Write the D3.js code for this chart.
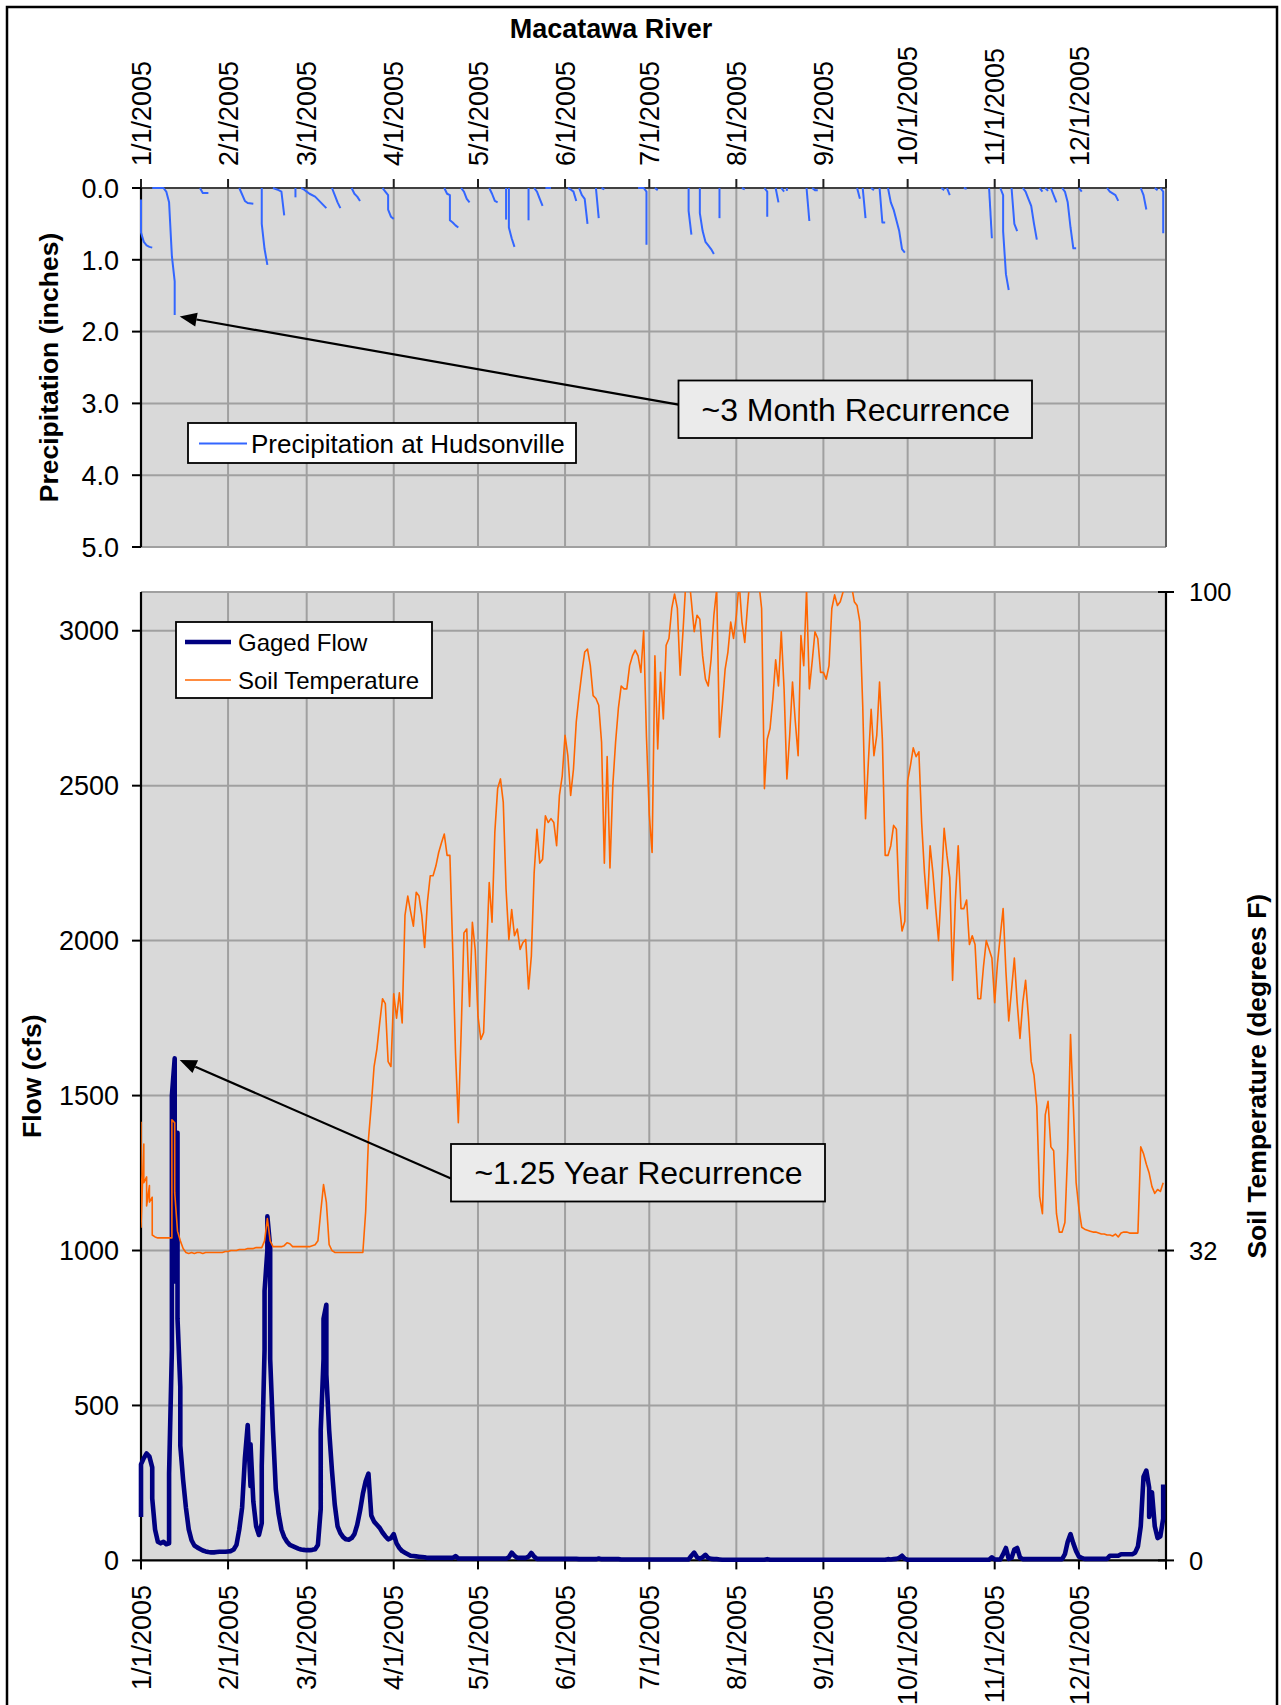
<!DOCTYPE html>
<html>
<head>
<meta charset="utf-8">
<script src="https://cdn.jsdelivr.net/npm/d3@7/dist/d3.min.js"></script>
<style>
html,body{margin:0;padding:0;background:#fff;}
svg{display:block;}
text{font-family:"Liberation Sans",Arial,Helvetica,sans-serif;fill:#000;}
</style>
</head>
<body>
<svg id="chart" width="1281" height="1705"></svg>
<script>
// ================= DATA =================
const chartTitle = "Macatawa River";
const monthLabels = ["1/1/2005","2/1/2005","3/1/2005","4/1/2005","5/1/2005","6/1/2005",
                     "7/1/2005","8/1/2005","9/1/2005","10/1/2005","11/1/2005","12/1/2005"];
const axisEndLabel = "1/1/2006";
const precipTickValues = [0, 1, 2, 3, 4, 5];
const flowTickValues = [0, 500, 1000, 1500, 2000, 2500, 3000];
const tempTickValues = [0, 32, 100];
const flowAxisMax = 3125;   // 32 °F lines up with 1000 cfs
const tempAxisMax = 100;

// Precipitation at Hudsonville: cumulative storm totals, [day of year (0 = Jan 1), inches]
const precipEvents = [
  [[0,0.16],[0,0.62],[1,0.75],[2,0.8],[3,0.82],[4,0.83]],
  [[4,0],[8,0],[9,0.05],[10,0.2],[11,0.95],[12,1.3],[12,1.77]],
  [[21,0],[22,0.07],[24,0.07]],
  [[35,0],[37,0.18],[38,0.21],[40,0.22]],
  [[43,0],[43,0.5],[44,0.85],[45,1.07]],
  [[47,0],[49,0.03],[50,0.05],[51,0.38]],
  [[55,0],[55,0.13]],
  [[57,0],[58,0.02],[59,0.05],[60,0.08],[62,0.12],[64,0.2],[66,0.28]],
  [[68,0],[69,0.1],[70,0.2],[71,0.28]],
  [[75,0],[76,0.08],[77,0.12],[78,0.18]],
  [[86,0],[87,0.05],[88,0.1],[88,0.3],[89,0.4],[90,0.43]],
  [[108,0],[109,0.08],[110,0.1],[110,0.45],[111,0.48],[112,0.52],[113,0.55]],
  [[114,0],[115,0.05],[116,0.15],[117,0.2]],
  [[124,0],[125,0.08],[126,0.18],[127,0.2]],
  [[130,0],[130,0.44]],
  [[131,0],[131,0.55],[132,0.7],[133,0.82]],
  [[138,0],[138,0.45]],
  [[140,0],[141,0.05],[142,0.15],[143,0.25]],
  [[144,0],[146,0]],
  [[152,0],[153,0.02],[154,0.05],[155,0.18]],
  [[156,0],[157,0.1],[158,0.15],[159,0.5]],
  [[162,0],[163,0.42]],
  [[164,0],[165,0.02]],
  [[177,0],[179,0],[180,0.05],[180,0.79]],
  [[183,0],[184,0.03]],
  [[195,0],[195,0.32],[196,0.65]],
  [[199,0],[199,0.35],[200,0.6],[201,0.75],[202,0.8],[203,0.85],[204,0.92]],
  [[206,0],[206,0.42]],
  [[214,0],[215,0.02]],
  [[222,0],[223,0.05],[223,0.4]],
  [[226,0],[227,0.2]],
  [[228,0],[229,0.05]],
  [[230,0],[230,0.04]],
  [[237,0],[238,0.46]],
  [[239,0],[240,0.03],[241,0.03]],
  [[255,0],[256,0.15]],
  [[257,0],[258,0.42]],
  [[260,0],[261,0.03]],
  [[263,0],[264,0.48],[265,0.48]],
  [[266,0],[267,0.2],[268,0.3],[269,0.45],[270,0.6],[271,0.85],[272,0.9]],
  [[285,0],[286,0.03]],
  [[287,0],[288,0.1]],
  [[293,0],[294,0.01]],
  [[302,0],[303,0.7]],
  [[306,0],[307,0.1],[307,0.6],[308,1.2],[309,1.42]],
  [[310,0],[311,0.5],[312,0.6]],
  [[314,0],[315,0.05],[316,0.15],[317,0.25],[318,0.5],[319,0.72]],
  [[320,0],[321,0.05]],
  [[322,0],[323,0.04]],
  [[324,0],[326,0.2]],
  [[328,0],[329,0.05],[330,0.2],[331,0.55],[332,0.84],[333,0.84]],
  [[334,0],[335,0.05]],
  [[344,0],[345,0.05],[347,0.1],[348,0.18]],
  [[356,0],[357,0.1],[358,0.3]],
  [[361,0],[362,0.03]],
  [[363,0],[364,0.05],[364,0.63]]
];

// Gaged flow (cfs), one entry per day; a pair = values logged within the same day
const flowJan = [[140,310],330,345,335,[300,200],100,60,55,60,52,[55,280],[680,1500],[1620,900],[1380,780],[560,370],260,170,100,65,48,42,37,32,29,27,26,26,27,28,28,28];
const flowFeb = [29,30,35,50,100,170,330,437,[240,375],190,110,82,[120,305],[680,870],[1000,1110],[1010,650],420,230,150,100,75,60,50,46,42,38,35,34];
const flowMar = [33,33,34,36,50,[166,420],[650,780],[825,600],420,290,180,110,88,75,68,67,72,85,115,160,215,255,280,145,125,115,105,90,78,68,72];
const flowApr = [85,55,40,30,25,20,15,14,13,12,11,10,8,8,8,8,8,8,8,8,8,8,14,6,6,6,6,6,6,6];
const flowMay = [6,6,6,6,6,6,6,6,6,6,6,10,25,15,8,8,8,8,12,24,12,5,5,5,5,5,5,5,5,5,5];
const flowJun = [5,5,5,5,5,4,4,4,4,4,4,4,6,4,4,4,4,4,4,4,3,3,3,3,3,3,3,3,3,3];
const flowJul = [3,3,3,3,3,3,3,3,3,3,3,3,3,3,3,15,25,10,5,10,18,8,5,4,4,3,2,2,2,2,2];
const flowAug = [2,2,2,2,2,2,2,2,2,2,2,4,2,2,2,2,2,2,2,2,2,2,2,2,2,2,2,2,2,2,2];
const flowSep = [2,2,2,2,2,2,2,2,2,2,2,2,2,2,2,2,2,2,2,2,2,2,2,4,3,4,5,8,15,5];
const flowOct = [2,2,2,2,2,2,2,2,2,2,2,2,2,2,2,2,2,2,2,2,2,2,2,2,2,2,2,2,2,2,10];
const flowNov = [3,3,3,20,40,5,8,35,40,10,4,4,4,4,4,4,4,4,4,4,4,4,4,4,4,20,60,85,55,30];
const flowDec = [12,8,5,5,5,5,5,5,5,5,5,15,15,15,15,20,20,20,20,20,25,45,110,270,290,[235,140],220,110,72,78,[135,245]];

// Soil temperature (°F), one entry per day; a pair = values logged within the same day
const tempJan = [[45.3,34.4],[43,39],[39.6,36.6],[38.7,37],[37.5,33.6],33.4,33.3,33.3,33.3,33.3,33.3,[33.3,45.5],[45.2,38],34,33,32.2,31.8,31.7,31.8,31.7,31.8,31.8,31.7,31.8,31.8,31.8,31.8,31.8,31.8,31.8,31.9];
const tempFeb = [31.9,32,32,32,32.1,32.1,32.1,32.2,32.2,32.2,32.3,32.3,32.3,33,35.3,33,32.4,32.4,32.4,32.4,32.5,32.8,32.7,32.4,32.4,32.4,32.4,32.4];
const tempMar = [32.4,32.4,32.5,32.6,33,36,38.8,37,32.6,32,31.8,31.8,31.8,31.8,31.8,31.8,31.8,31.8,31.8,31.8,31.8,36,43.5,47,51,52.8,55.5,58,57.5,51.5,51];
const tempApr = [58.5,56,58.6,55.5,66.6,68.6,67,65.5,69,68.6,66.6,63.3,68,70.7,70.7,71.7,73.1,74.1,75,72.8,72.8,63.1,52.4,45.2,54.5,64.8,65.2,57.2,65.9,63.1];
const tempMay = [56.2,53.8,54.5,62.4,70,65.9,75.2,79.7,80.7,78.3,69.3,64.1,67.2,64.5,65.2,63.1,63.8,64.1,59,62.4,71,75.5,72,72.4,76.9,76.2,76.6,76.2,73.8,79,81];
const tempJun = [85.2,83.1,79,81.7,86.6,89.3,91.7,93.8,94.1,92.4,89.3,89,88.3,84.5,72,83,71.5,80,84.5,88,90.3,90,90,92.4,93.4,94,93.4,91.7,96,85];
const tempJul = [77,73.1,93.4,83.8,91.7,86.9,94.5,95.2,98.3,99.8,98.3,91.4,95.9,101,102,99,95.9,97.6,97.2,93.4,91,90.3,93,97.6,100.3,85,88.3,92,93.8,96.9,95.2];
const tempAug = [97.6,101,96.9,94.8,98.6,102,103,102,101,98.3,79.7,84.8,85.9,89,93,90.3,95.9,90,80.7,85.2,90.7,86.6,83.1,95.5,92.4,100.3,90,92.8,95.9,95.2,91.7];
const tempSep = [91.7,91,92.4,98.3,99.7,98.6,99,100,101,101,100.7,99,98.6,96.9,88.3,76.6,82.4,87.9,83.1,85.2,90.7,84.8,72.8,72.8,73.8,75.9,75.5,68,65,66];
const tempOct = [80.5,82.1,83.9,83,83.5,76.1,71,67.3,73.8,71,67.3,64,69.6,75.6,72.8,70.5,59.9,68.2,73.8,67.3,67.3,68.2,63.6,64.5,63.6,58,58,61.3,64,63.1,62.2];
const tempNov = [57.6,61.7,64.5,67.3,60.8,55.7,58.9,62.2,57.6,53.9,57.6,59.9,56.2,51.5,50.1,46.9,37.6,35.8,46,47.4,42.7,42.3,35.8,33.9,33.9,34.9,42.3,54.3,46.9,39];
const tempDec = [36.3,34.4,34.2,34.1,34,33.9,33.9,33.8,33.7,33.7,33.6,33.6,33.5,33.7,33.4,33.8,33.9,33.9,33.8,33.8,33.8,33.8,42.7,42,40.9,40,38.6,37.9,38.3,38.1,39];

const annotations = [
  {text: "~3 Month Recurrence", day: 12, value: 1.77, panel: "precip"},
  {text: "~1.25 Year Recurrence", day: 12, value: 1620, panel: "flow"}
];
const legendTop = [{name: "Precipitation at Hudsonville", key: "precip"}];
const legendBottom = [{name: "Gaged Flow", key: "flow"}, {name: "Soil Temperature", key: "temp"}];

// ================= STYLE / LAYOUT =================
const X0 = 141, X1 = 1166;
const P_TOP = 188, P_BOT = 547;
const B_TOP = 592, B_BOT = 1560.4;
const colors = {precip: "#3366ff", flow: "#000080", temp: "#ff6600",
                plotBg: "#d9d9d9", grid: "#a0a0a0", axis: "#000", boxFill: "#ebebeb"};
const widths = {precip: 2, flow: 4.6, temp: 1.6};
const fs = {title: 27, axisTitle: 26.5, tickLeft: 27, tickRight: 25.5, month: 27, legendTop: 26, legendBot: 24, note: 32};

const svg = d3.select("#chart");
const DAY = 86400000;
const t0 = Date.UTC(2005, 0, 1);
const dayDate = d => new Date(t0 + d * DAY);
const parseMDY = s => { const [m, d, y] = s.split("/").map(Number); return new Date(Date.UTC(y, m - 1, d)); };
const monthDates = monthLabels.map(parseMDY);
const endDate = parseMDY(axisEndLabel);

const x = d3.scaleUtc().domain([monthDates[0], endDate]).range([X0, X1]);
const yP = d3.scaleLinear().domain([0, 5]).range([P_TOP, P_BOT]);
const yF = d3.scaleLinear().domain([0, flowAxisMax]).range([B_BOT, B_TOP]);
const yT = d3.scaleLinear().domain([0, tempAxisMax]).range([B_BOT, B_TOP]);

function expand(series) {
  const pts = [];
  series.forEach((v, i) => {
    (Array.isArray(v) ? v : [v]).forEach(val => pts.push({d: i, v: val}));
  });
  return pts;
}
const gagedFlow = [].concat(flowJan, flowFeb, flowMar, flowApr, flowMay, flowJun, flowJul, flowAug, flowSep, flowOct, flowNov, flowDec);
const soilTemp = [].concat(tempJan, tempFeb, tempMar, tempApr, tempMay, tempJun, tempJul, tempAug, tempSep, tempOct, tempNov, tempDec);

// defs
const defs = svg.append("defs");
defs.append("clipPath").attr("id", "clipBot").append("rect")
  .attr("x", X0).attr("y", B_TOP).attr("width", X1 - X0).attr("height", B_BOT - B_TOP);

// outer frame
svg.append("rect").attr("x", 7).attr("y", 7).attr("width", 1270).attr("height", 1720)
  .attr("fill", "none").attr("stroke", "#000").attr("stroke-width", 2.5);

// title
svg.append("text").attr("x", 611).attr("y", 38).attr("text-anchor", "middle")
  .attr("font-size", fs.title).attr("font-weight", "bold").text(chartTitle);

const allTickDates = monthDates.concat([endDate]);

// ---------------- TOP PANEL: precipitation ----------------
const gTop = svg.append("g");
gTop.append("rect").attr("x", X0).attr("y", P_TOP).attr("width", X1 - X0).attr("height", P_BOT - P_TOP)
  .attr("fill", colors.plotBg);
gTop.selectAll("line.hg").data(precipTickValues.filter(v => v > 0)).join("line")
  .attr("x1", X0).attr("x2", X1).attr("y1", d => yP(d)).attr("y2", d => yP(d))
  .attr("stroke", colors.grid).attr("stroke-width", 2);
gTop.selectAll("line.vg").data(monthDates.slice(1)).join("line")
  .attr("x1", d => x(d)).attr("x2", d => x(d)).attr("y1", P_TOP).attr("y2", P_BOT)
  .attr("stroke", colors.grid).attr("stroke-width", 2);
gTop.append("line").attr("x1", X1).attr("x2", X1).attr("y1", P_TOP).attr("y2", P_BOT)
  .attr("stroke", "#606060").attr("stroke-width", 2);
gTop.append("line").attr("x1", X0).attr("x2", X1).attr("y1", P_TOP).attr("y2", P_TOP)
  .attr("stroke", "#404040").attr("stroke-width", 2.2);
gTop.selectAll("line.tt").data(allTickDates).join("line")
  .attr("x1", d => x(d)).attr("x2", d => x(d)).attr("y1", P_TOP).attr("y2", P_TOP - 9)
  .attr("stroke", "#202020").attr("stroke-width", 2);
gTop.append("line").attr("x1", X0).attr("x2", X0).attr("y1", P_TOP).attr("y2", P_BOT)
  .attr("stroke", colors.axis).attr("stroke-width", 2.2);
gTop.selectAll("line.lt").data(precipTickValues).join("line")
  .attr("x1", X0 - 9).attr("x2", X0).attr("y1", d => yP(d)).attr("y2", d => yP(d))
  .attr("stroke", colors.axis).attr("stroke-width", 2);
gTop.selectAll("text.yl").data(precipTickValues).join("text")
  .attr("x", 119).attr("y", d => yP(d)).attr("dy", "0.36em").attr("text-anchor", "end")
  .attr("font-size", fs.tickLeft).text(d => d3.format(".1f")(d));
gTop.selectAll("text.ml").data(monthDates).join("text")
  .attr("transform", (d) => `translate(${x(d)},166) rotate(-90)`)
  .attr("dy", "0.36em").attr("text-anchor", "start").attr("font-size", fs.month)
  .text((d, i) => monthLabels[i]);
svg.append("text").attr("transform", `translate(48,${(P_TOP + P_BOT) / 2}) rotate(-90)`)
  .attr("text-anchor", "middle").attr("dy", "0.36em").attr("font-size", fs.axisTitle).attr("font-weight", "bold")
  .text("Precipitation (inches)");

const lineP = d3.line().x(p => x(dayDate(p[0]))).y(p => yP(p[1]));
gTop.append("g").selectAll("path").data(precipEvents).join("path")
  .attr("d", lineP).attr("fill", "none").attr("stroke", colors.precip)
  .attr("stroke-width", widths.precip).attr("stroke-linejoin", "round");

// ---------------- BOTTOM PANEL: flow + soil temperature ----------------
const gBot = svg.append("g");
gBot.append("rect").attr("x", X0).attr("y", B_TOP).attr("width", X1 - X0).attr("height", B_BOT - B_TOP)
  .attr("fill", colors.plotBg);
gBot.append("line").attr("x1", X0).attr("x2", X1).attr("y1", B_TOP).attr("y2", B_TOP)
  .attr("stroke", colors.grid).attr("stroke-width", 2);
gBot.selectAll("line.hg").data(flowTickValues.filter(v => v > 0)).join("line")
  .attr("x1", X0).attr("x2", X1).attr("y1", d => yF(d)).attr("y2", d => yF(d))
  .attr("stroke", colors.grid).attr("stroke-width", 2);
gBot.selectAll("line.vg").data(monthDates.slice(1)).join("line")
  .attr("x1", d => x(d)).attr("x2", d => x(d)).attr("y1", B_TOP).attr("y2", B_BOT)
  .attr("stroke", colors.grid).attr("stroke-width", 2);

gBot.append("line").attr("x1", X0).attr("x2", X0).attr("y1", B_TOP).attr("y2", B_BOT)
  .attr("stroke", colors.axis).attr("stroke-width", 2.2);
gBot.append("line").attr("x1", X1).attr("x2", X1).attr("y1", B_TOP).attr("y2", B_BOT)
  .attr("stroke", colors.axis).attr("stroke-width", 2.2);
gBot.append("line").attr("x1", X0).attr("x2", X1).attr("y1", B_BOT).attr("y2", B_BOT)
  .attr("stroke", colors.axis).attr("stroke-width", 2.2);
gBot.selectAll("line.lt").data(flowTickValues).join("line")
  .attr("x1", X0 - 9).attr("x2", X0).attr("y1", d => yF(d)).attr("y2", d => yF(d))
  .attr("stroke", colors.axis).attr("stroke-width", 2);
gBot.selectAll("line.rt").data(tempTickValues).join("line")
  .attr("x1", X1 - 8).attr("x2", X1 + 8).attr("y1", d => yT(d)).attr("y2", d => yT(d))
  .attr("stroke", colors.axis).attr("stroke-width", 2);
gBot.selectAll("line.bt").data(allTickDates).join("line")
  .attr("x1", d => x(d)).attr("x2", d => x(d)).attr("y1", B_BOT).attr("y2", B_BOT + 9)
  .attr("stroke", colors.axis).attr("stroke-width", 2);
gBot.selectAll("text.yl").data(flowTickValues).join("text")
  .attr("x", 119).attr("y", d => yF(d)).attr("dy", "0.36em").attr("text-anchor", "end")
  .attr("font-size", fs.tickLeft).text(d => d);
gBot.selectAll("text.yr").data(tempTickValues).join("text")
  .attr("x", 1189).attr("y", d => yT(d)).attr("dy", "0.36em").attr("text-anchor", "start")
  .attr("font-size", fs.tickRight).text(d => d);
gBot.selectAll("text.ml").data(monthDates).join("text")
  .attr("transform", d => `translate(${x(d)},1585) rotate(-90)`)
  .attr("dy", "0.36em").attr("text-anchor", "end").attr("font-size", fs.month)
  .text((d, i) => monthLabels[i]);
svg.append("text").attr("transform", `translate(31,${(B_TOP + B_BOT) / 2}) rotate(-90)`)
  .attr("text-anchor", "middle").attr("dy", "0.36em").attr("font-size", fs.axisTitle).attr("font-weight", "bold")
  .text("Flow (cfs)");
svg.append("text").attr("transform", `translate(1256,${(B_TOP + B_BOT) / 2}) rotate(-90)`)
  .attr("text-anchor", "middle").attr("dy", "0.36em").attr("font-size", fs.axisTitle).attr("font-weight", "bold")
  .text("Soil Temperature (degrees F)");

// series
const lineF = d3.line().x(p => x(dayDate(p.d))).y(p => yF(p.v));
const lineT = d3.line().x(p => x(dayDate(p.d))).y(p => yT(p.v));
gBot.append("path").datum(expand(gagedFlow)).attr("d", lineF)
  .attr("fill", "none").attr("stroke", colors.flow).attr("stroke-width", widths.flow)
  .attr("stroke-linejoin", "round");
gBot.append("path").datum(expand(soilTemp)).attr("d", lineT).attr("clip-path", "url(#clipBot)")
  .attr("fill", "none").attr("stroke", colors.temp).attr("stroke-width", widths.temp)
  .attr("stroke-linejoin", "round");

// ---------------- legends ----------------
function legendBox(g, bx, by, bw, bh) {
  g.append("rect").attr("x", bx).attr("y", by).attr("width", bw).attr("height", bh)
    .attr("fill", "#fff").attr("stroke", "#000").attr("stroke-width", 1.8);
}
const lt = svg.append("g");
legendBox(lt, 188, 423, 388, 40);
legendTop.forEach((e, i) => {
  const cy = 443.5 + i * 38;
  lt.append("line").attr("x1", 199).attr("x2", 247).attr("y1", cy).attr("y2", cy)
    .attr("stroke", colors[e.key]).attr("stroke-width", widths[e.key]);
  lt.append("text").attr("x", 251).attr("y", cy).attr("dy", "0.36em").attr("font-size", fs.legendTop).text(e.name);
});
const lb = svg.append("g");
legendBox(lb, 176, 622, 256, 76);
legendBottom.forEach((e, i) => {
  const cy = 642 + i * 38;
  lb.append("line").attr("x1", 185).attr("x2", 231).attr("y1", cy).attr("y2", cy)
    .attr("stroke", colors[e.key]).attr("stroke-width", widths[e.key]);
  lb.append("text").attr("x", 238).attr("y", cy).attr("dy", "0.36em").attr("font-size", fs.legendBot).text(e.name);
});

// ---------------- annotations ----------------
const annBoxes = [{x: 678.5, y: 380.5, w: 353.5, h: 57.5}, {x: 451, y: 1144, w: 374, h: 57.5}];
annotations.forEach((a, i) => {
  const b = annBoxes[i];
  const tipX = x(dayDate(a.day)) + 5;
  const tipY = (a.panel === "precip" ? yP(a.value) : yF(a.value)) + 1.5;
  const sx = b.x, sy = b.y + b.h * (i === 0 ? 0.42 : 0.6);
  const dx = tipX - sx, dy = tipY - sy, L = Math.hypot(dx, dy);
  const ux = dx / L, uy = dy / L, hl = 17, hw = 7;
  const bxp = tipX - ux * hl, byp = tipY - uy * hl;
  svg.append("line").attr("x1", sx).attr("y1", sy).attr("x2", bxp).attr("y2", byp)
    .attr("stroke", "#000").attr("stroke-width", 2.2);
  svg.append("path").attr("d", `M${tipX},${tipY}L${bxp - uy * hw},${byp + ux * hw}L${bxp + uy * hw},${byp - ux * hw}Z`)
    .attr("fill", "#000");
  svg.append("rect").attr("x", b.x).attr("y", b.y).attr("width", b.w).attr("height", b.h)
    .attr("fill", colors.boxFill).attr("stroke", "#000").attr("stroke-width", 1.8);
  svg.append("text").attr("x", b.x + b.w / 2 + 0.5).attr("y", b.y + b.h / 2).attr("dy", "0.36em")
    .attr("text-anchor", "middle").attr("font-size", fs.note).text(a.text);
});
</script>
</body>
</html>
